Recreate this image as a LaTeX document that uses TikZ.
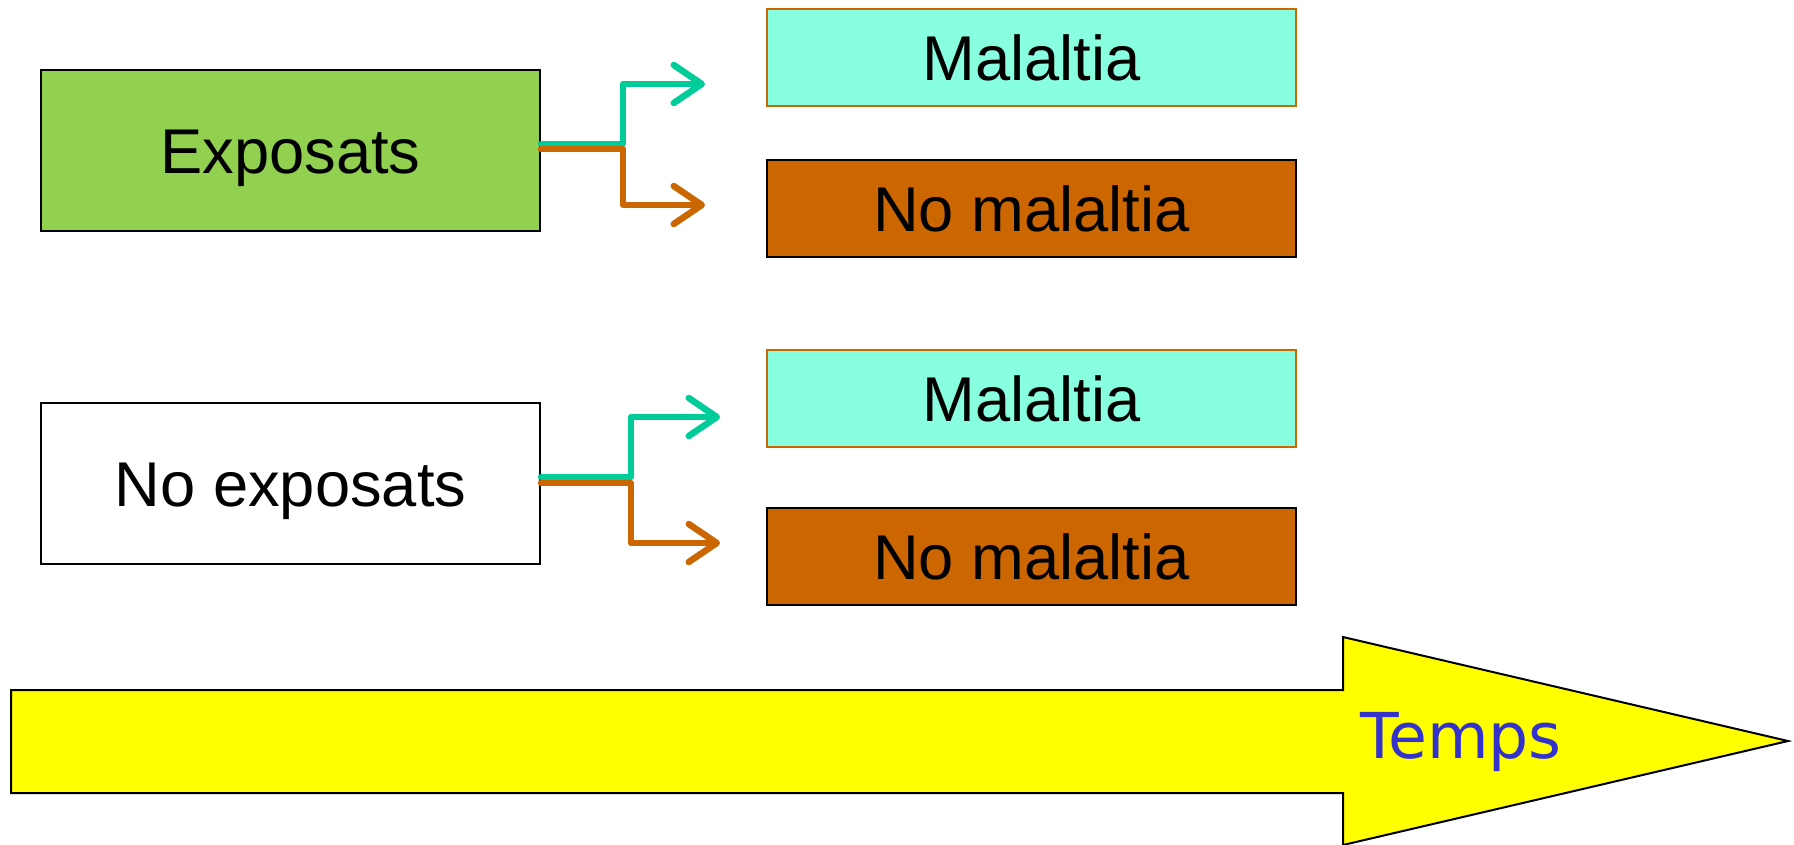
\documentclass[tikz,border=0pt]{standalone}
\usepackage{fontspec}
\setmainfont{Liberation Sans}
\newfontfamily\tempsfont{DejaVu Sans}
\usetikzlibrary{arrows.meta}
\definecolor{expgreen}{HTML}{92D050}
\definecolor{malcyan}{HTML}{88FFDF}
\definecolor{nomalorange}{HTML}{CC6600}
\definecolor{linegreen}{HTML}{00CC99}
\definecolor{tempsblue}{HTML}{3333CC}
\definecolor{timeyellow}{HTML}{FFFF00}
\begin{document}
\begin{tikzpicture}[x=0.1mm,y=-0.1mm,
        box/.style={draw=black,line width=0.2mm,inner sep=0pt,
            minimum width=49.9mm,minimum height=16.1mm,
            text height=12.9pt,text depth=0pt,font=\fontsize{18}{21}\selectfont},
        outbox/.style={box,minimum width=52.9mm,minimum height=9.7mm},
        branch/.style={line width=0.65mm,line cap=round,line join=round,
            -{Straight Barb[length=2.8mm,width=3.8mm,round]}}]
    \useasboundingbox (0,0) rectangle (1794,844);
    \node[box,fill=expgreen] (exp) at (290.5,150.5) {Exposats};
    \node[box,fill=white] (noexp) at (290.5,483.5) {No exposats};
    \node[outbox,fill=malcyan,draw=nomalorange] (mal1) at (1031.5,57.5) {Malaltia};
    \node[outbox,fill=nomalorange] (nomal1) at (1031.5,208.5) {No malaltia};
    \node[outbox,fill=malcyan,draw=nomalorange] (mal2) at (1031.5,398.5) {Malaltia};
    \node[outbox,fill=nomalorange] (nomal2) at (1031.5,556.5) {No malaltia};
    \coordinate (tipmal1) at (705,84);
    \coordinate (tipnomal1) at (705,205);
    \coordinate (tipmal2) at (720,417);
    \coordinate (tipnomal2) at (720,543);
	\draw[branch,linegreen] ([yshift=0.65mm]exp.east) -| (623,84) -- (tipmal1);
	\draw[branch,nomalorange] ([yshift=0.15mm]exp.east) -| (623,205) -- (tipnomal1);
	\draw[branch,linegreen] ([yshift=0.65mm]noexp.east) -| (631,417) -- (tipmal2);
	\draw[branch,nomalorange] ([yshift=0.05mm]noexp.east) -| (631,543) -- (tipnomal2);
    \draw[fill=timeyellow,line width=0.2mm] (11,690) -- (1343,690) -- (1343,637) -- (1788,741)
        -- (1343,845) -- (1343,793) -- (11,793) -- cycle;
    \node[anchor=base,text=tempsblue,font=\tempsfont\fontsize{18}{21}\selectfont] (temps)
        at (1461,758) {Temps};
\end{tikzpicture}
\end{document}
